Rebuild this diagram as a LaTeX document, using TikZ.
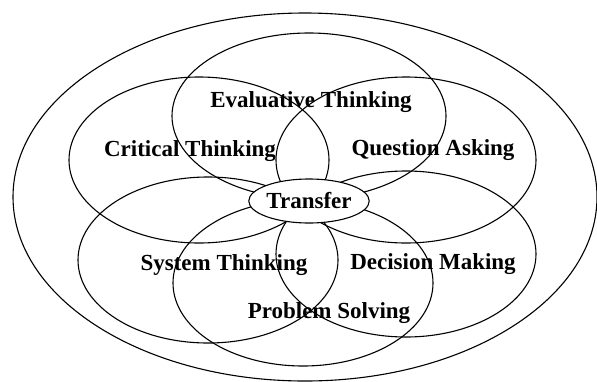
\documentclass[tikz,border=0pt]{standalone}
\usepackage{fontspec}
\setmainfont{Liberation Serif}
\usetikzlibrary{shapes.geometric}
\tikzstyle{petal}=[draw, ellipse, inner sep=0pt, minimum width=260pt, minimum height=166pt]
\tikzstyle{outer}=[petal, minimum width=584pt, minimum height=368pt]
\tikzstyle{core}=[petal, fill=white, minimum width=104pt, minimum height=44pt]
\tikzstyle{skill}=[font=\fontsize{23}{25}\selectfont\bfseries, inner sep=0pt, anchor=base]

\begin{document}
\begin{tikzpicture}[x=1pt, y=-1pt, line width=1.1pt]
        \useasboundingbox (0, 0) rectangle (597, 381);
        \node[outer] (world) at (305, 197) {};
        \node[petal, minimum width=274pt] (evalE) at (309, 116) {};
        \node[petal] (critE) at (199, 160) {};
        \node[petal] (questE) at (406, 160) {};
        \node[petal] (systE) at (208, 260) {};
        \node[petal] (decE) at (406, 254) {};
        \node[petal] (probE) at (303, 283) {};
        \node[core, skill, anchor=center] (transfer) at (309, 201) {Transfer};
        \node[skill] (evalT) at (311, 107) {Evaluative Thinking};
        \node[skill] (critT) at (190, 156) {Critical Thinking};
        \node[skill] (questT) at (433, 155) {Question Asking};
        \node[skill] (systT) at (224, 270) {System Thinking};
        \node[skill] (decT) at (433, 269) {Decision Making};
        \node[skill] (probT) at (329, 318) {Problem Solving};
    \end{tikzpicture}
\end{document}
